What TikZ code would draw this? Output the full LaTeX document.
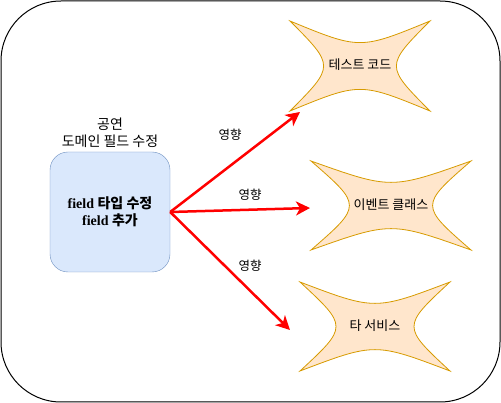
\documentclass[tikz,border=0pt]{standalone}
\usepackage{fontspec}
\setmainfont{Liberation Serif}
\newfontfamily\kr{Noto Sans CJK KR}
\usetikzlibrary{arrows.meta,positioning}
\definecolor{BoxBlue}{HTML}{DAE8FC}
\definecolor{BoxEdge}{HTML}{6C8EBF}
\definecolor{BurstFill}{HTML}{FFE6CC}
\definecolor{BurstEdge}{HTML}{D79B00}

% concave four-point shape between two corners
\newcommand{\spikyshape}[4]{%
  \pgfmathsetmacro{\mx}{(#1+#3)/2}%
  \pgfmathsetmacro{\my}{(#2+#4)/2}%
  \pgfmathsetmacro{\dx}{0.32*(#3-#1)}%
  \pgfmathsetmacro{\dy}{0.32*(#4-#2)}%
  \draw[burst] (#1,#2) .. controls (\mx,#2+\dy) .. (#3,#2)
    .. controls (#3-\dx,\my) .. (#3,#4)
    .. controls (\mx,#4-\dy) .. (#1,#4)
    .. controls (#1+\dx,\my) .. cycle;
}

\begin{document}
\begin{tikzpicture}[
  x=1pt, y=-1pt,
  domainbox/.style={draw=BoxEdge, fill=BoxBlue, rounded corners=18pt, minimum width=120pt, minimum height=120pt, align=center, font=\fontsize{14}{17}\selectfont\bfseries},
  burst/.style={draw=BurstEdge, fill=BurstFill, line width=0.8pt},
  burstlbl/.style={font=\fontsize{13}{15}\selectfont\kr},
  lbl/.style={font=\fontsize{12.5}{14}\selectfont\kr},
  arr/.style={-{Stealth[length=14pt, width=14pt, inset=4pt]}, line width=2.5pt, red}
]
\useasboundingbox (0,0) rectangle (501,403);
\draw[line width=1pt, rounded corners=60pt] (1,1) rectangle (500,402);

\node[domainbox] (domain) at (110,212) {field {\kr 타입 수정}\\field {\kr 추가}};
\node[font=\fontsize{14}{17}\selectfont\kr, align=center, above=1pt of domain] (title) {공연\\도메인 필드 수정};

\spikyshape{290}{21}{430}{111}
\node[burstlbl] (test) at (360,65) {테스트 코드};
\spikyshape{311}{161}{471}{250}
\node[burstlbl] (event) at (391,205) {이벤트 클래스};
\spikyshape{300}{282}{450}{371}
\node[burstlbl] (service) at (375,326) {타 서비스};

\coordinate (tipA) at (300,112);
\coordinate (tipB) at (310,208);
\coordinate (tipC) at (290,330);
\draw[arr] (domain.east) -- (tipA);
\draw[arr] (domain.east) -- (tipB);
\draw[arr] (domain.east) -- (tipC);
\node[lbl] (effA) at (230,135) {영향};
\node[lbl] (effB) at (250,195) {영향};
\node[lbl] (effC) at (250,266) {영향};
\end{tikzpicture}
\end{document}
